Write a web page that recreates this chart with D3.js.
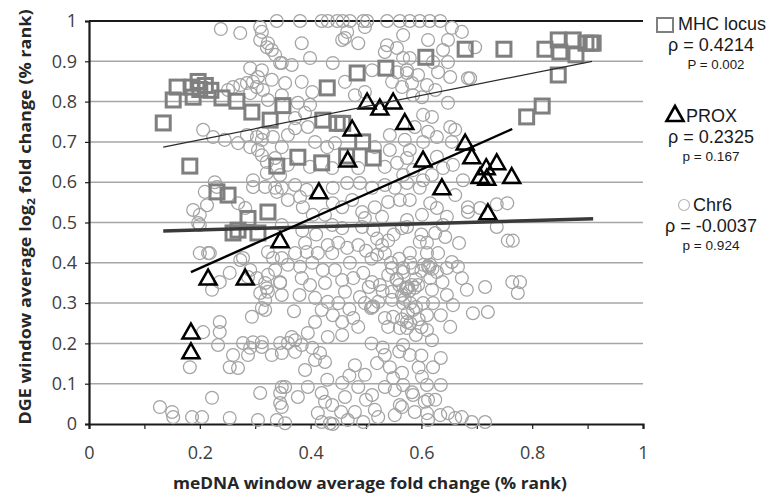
<!DOCTYPE html>
<html>
<head>
<meta charset="utf-8">
<script src="https://cdn.jsdelivr.net/npm/d3@7"></script>
<style>
  body { margin: 0; background: #fff; }
  text { font-family: "Open Sans", sans-serif; }
</style>
</head>
<body>
<div id="grafico"></div>
<script>
// ---------------- Datos ----------------

const ticksY = [0, 0.1, 0.2, 0.3, 0.4, 0.5, 0.6, 0.7, 0.8, 0.9, 1]
const etiquetasY = ["0", "0.1", "0.2", "0.3", "0.4", "0.5", "0.6", "0.7", "0.8", "0.9", "1"]
const ticksX = [0, 0.1, 0.2, 0.3, 0.4, 0.5, 0.6, 0.7, 0.8, 0.9, 1]
const etiquetasX = ["0", "", "0.2", "", "0.4", "", "0.6", "", "0.8", "", "1"]

// MHC locus (cuadrados)
const mhc = [
  [0.134,0.747],[0.152,0.804],[0.159,0.836],[0.186,0.836],[0.197,0.850],[0.200,0.830],[0.210,0.840],
  [0.220,0.828],[0.188,0.811],[0.240,0.809],[0.267,0.801],[0.294,0.774],[0.327,0.754],[0.350,0.790],
  [0.182,0.640],[0.339,0.640],[0.231,0.576],[0.251,0.568],[0.323,0.526],[0.287,0.510],[0.260,0.474],
  [0.269,0.481],[0.305,0.474],[0.484,0.871],[0.536,0.883],[0.430,0.834],[0.422,0.754],[0.448,0.746],
  [0.458,0.746],[0.494,0.700],[0.377,0.662],[0.420,0.648],[0.513,0.660],[0.465,0.665],[0.608,0.910],
  [0.679,0.930],[0.749,0.930],[0.823,0.930],[0.847,0.953],[0.874,0.953],[0.850,0.923],[0.879,0.916],
  [0.897,0.945],[0.906,0.945],[0.910,0.945],[0.847,0.866],[0.818,0.789],[0.790,0.762]
]

// PROX (triangulos)
const prox = [
  [0.502,0.799],[0.525,0.784],[0.549,0.799],[0.570,0.748],[0.475,0.732],[0.467,0.655],[0.415,0.576],
  [0.679,0.697],[0.691,0.663],[0.603,0.655],[0.637,0.586],[0.736,0.648],[0.717,0.636],[0.706,0.614],
  [0.718,0.610],[0.763,0.614],[0.720,0.524],[0.215,0.362],[0.282,0.362],[0.184,0.228],[0.184,0.179],
  [0.345,0.455]
]

// Chr6 (circulos)
const chr6 = [
  [0.238,0.980],[0.273,0.970],[0.312,0.973],[0.309,0.953],[0.321,0.935],[0.330,0.928],[0.336,0.916],
  [0.345,0.896],[0.291,0.883],[0.312,0.878],[0.330,0.854],[0.305,0.861],[0.296,0.849],[0.285,0.846],
  [0.273,0.841],[0.260,0.836],[0.251,0.829],[0.314,0.829],[0.303,0.836],[0.291,0.821],[0.323,0.804],
  [0.206,0.730],[0.224,0.712],[0.245,0.705],[0.269,0.697],[0.285,0.717],[0.303,0.712],[0.312,0.705],
  [0.332,0.712],[0.291,0.687],[0.305,0.680],[0.312,0.667],[0.321,0.650],[0.336,0.660],[0.345,0.618],
  [0.296,0.605],[0.318,0.588],[0.336,0.586],[0.227,0.600],[0.209,0.576],[0.188,0.531],[0.200,0.519],
  [0.197,0.499],[0.282,0.536],[0.269,0.548],[0.314,0.722],[0.213,0.543],[0.231,0.588],[0.296,0.588],
  [0.321,0.623],[0.339,0.576],[0.309,0.985],[0.323,0.945],
  [0.339,1],[0.381,1],[0.420,1],[0.431,1],[0.448,1],[0.458,1],[0.471,1],[0.495,1],[0.502,1],
  [0.538,1],[0.561,1],[0.579,1],[0.597,1],[0.615,1],[0.634,1],
  [0.384,0.945],[0.457,0.953],[0.486,0.945],[0.466,0.973],[0.498,0.985],
  [0.462,0.958],[0.538,0.940],[0.556,0.933],[0.567,0.908],[0.534,0.923],[0.348,0.896],[0.366,0.891],
  [0.399,0.908],[0.440,0.896],[0.511,0.878],[0.556,0.873],[0.574,0.871],[0.354,0.846],[0.384,0.849],
  [0.403,0.824],[0.462,0.849],[0.480,0.816],[0.498,0.824],[0.547,0.849],[0.565,0.836],[0.348,0.816],
  [0.377,0.797],[0.399,0.792],[0.390,0.772],[0.372,0.759],[0.372,0.734],[0.395,0.737],[0.359,0.717],
  [0.408,0.700],[0.348,0.687],[0.430,0.687],[0.444,0.697],[0.516,0.687],[0.543,0.717],[0.543,0.680],
  [0.570,0.705],[0.359,0.643],[0.399,0.638],[0.439,0.635],[0.486,0.635],[0.534,0.638],[0.556,0.648],
  [0.567,0.618],[0.348,0.586],[0.372,0.593],[0.393,0.581],[0.440,0.586],[0.466,0.598],[0.489,0.598],
  [0.511,0.586],[0.534,0.593],[0.552,0.586],[0.359,0.556],[0.381,0.563],[0.386,0.538],[0.440,0.548],
  [0.457,0.538],[0.475,0.556],[0.493,0.526],[0.516,0.538],[0.540,0.551],[0.561,0.556],[0.498,0.511],
  [0.529,0.514],[0.426,0.519],[0.404,0.519],
  [0.567,0.965],[0.612,0.953],[0.648,0.953],[0.655,0.983],[0.673,0.973],[0.697,0.935],[0.639,0.928],
  [0.621,0.898],[0.648,0.898],[0.579,0.908],[0.574,0.878],[0.594,0.866],[0.630,0.873],[0.652,0.861],
  [0.684,0.858],[0.583,0.846],[0.610,0.841],[0.625,0.829],[0.585,0.816],[0.601,0.811],[0.648,0.797],
  [0.603,0.767],[0.619,0.762],[0.588,0.737],[0.612,0.725],[0.652,0.737],[0.661,0.730],[0.655,0.700],
  [0.603,0.700],[0.579,0.680],[0.628,0.663],[0.574,0.660],[0.639,0.635],[0.657,0.643],[0.585,0.630],
  [0.619,0.618],[0.603,0.605],[0.574,0.598],[0.597,0.586],[0.661,0.568],[0.579,0.556],[0.616,0.548],
  [0.628,0.536],[0.684,0.538],[0.755,0.548],[0.736,0.545],[0.601,0.519],[0.574,0.506],[0.646,0.514],
  [0.706,0.536],[0.675,0.605],[0.684,0.526],[0.628,0.712],[0.688,0.858],
  [0.200,0.494],[0.215,0.424],[0.278,0.412],[0.222,0.333],[0.236,0.352],[0.291,0.382],[0.303,0.362],
  [0.323,0.370],[0.318,0.350],[0.345,0.352],[0.323,0.328],[0.318,0.308],[0.318,0.283],[0.294,0.266],
  [0.312,0.288],[0.206,0.228],[0.236,0.253],[0.236,0.228],[0.233,0.196],[0.182,0.141],[0.260,0.171],
  [0.254,0.141],[0.269,0.139],[0.278,0.201],[0.291,0.189],[0.287,0.171],[0.296,0.203],[0.312,0.203],
  [0.312,0.191],[0.330,0.171],[0.345,0.201],[0.348,0.176],[0.309,0.077],[0.345,0.077],[0.222,0.065],
  [0.128,0.042],[0.150,0.030],[0.152,0.017],[0.186,0.017],[0.204,0.017],[0.254,0.015],[0.305,0.010],
  [0.339,0.010],[0.345,0.052],[0.200,0.424],[0.218,0.424],[0.273,0.407],[0.254,0.375],[0.287,0.365],
  [0.321,0.337],[0.309,0.325],[0.323,0.427],[0.332,0.412],[0.336,0.382],[0.354,0.002],[0.354,0.092],
  [0.348,0.494],[0.439,0.494],[0.457,0.486],[0.493,0.489],[0.513,0.481],[0.565,0.486],[0.390,0.449],
  [0.372,0.424],[0.393,0.427],[0.413,0.424],[0.431,0.444],[0.439,0.424],[0.466,0.437],[0.486,0.444],
  [0.529,0.444],[0.534,0.424],[0.348,0.412],[0.359,0.395],[0.381,0.390],[0.403,0.400],[0.422,0.382],
  [0.444,0.382],[0.471,0.400],[0.495,0.375],[0.547,0.387],[0.567,0.387],[0.345,0.350],[0.384,0.362],
  [0.399,0.345],[0.426,0.350],[0.457,0.357],[0.477,0.362],[0.511,0.352],[0.540,0.370],[0.556,0.357],
  [0.574,0.337],[0.547,0.328],[0.348,0.320],[0.408,0.313],[0.431,0.303],[0.462,0.328],[0.489,0.315],
  [0.498,0.300],[0.511,0.290],[0.513,0.292],[0.509,0.288],[0.522,0.303],[0.547,0.308],[0.420,0.283],
  [0.440,0.270],[0.408,0.253],[0.457,0.253],[0.477,0.263],[0.486,0.241],[0.534,0.263],[0.549,0.266],
  [0.540,0.241],[0.561,0.238],[0.574,0.253],[0.395,0.226],[0.457,0.221],[0.431,0.216],[0.366,0.216],
  [0.359,0.201],[0.372,0.208],[0.384,0.196],[0.372,0.179],[0.403,0.189],[0.417,0.176],[0.426,0.154],
  [0.408,0.159],[0.480,0.146],[0.498,0.122],[0.520,0.151],[0.534,0.171],[0.543,0.141],[0.549,0.114],
  [0.565,0.127],[0.390,0.134],[0.348,0.092],[0.377,0.067],[0.395,0.092],[0.420,0.077],[0.426,0.055],
  [0.457,0.102],[0.462,0.067],[0.486,0.092],[0.511,0.072],[0.534,0.092],[0.552,0.084],[0.348,0.042],
  [0.413,0.027],[0.439,0.047],[0.480,0.030],[0.516,0.035],[0.522,0.017],[0.552,0.022],[0.565,0.042],
  [0.420,0.005],[0.435,0.002],[0.495,0.005],[0.467,0.010],[0.440,0.000],
  [0.574,0.489],[0.639,0.494],[0.625,0.474],[0.643,0.464],[0.597,0.452],[0.668,0.449],[0.736,0.489],
  [0.756,0.455],[0.765,0.455],[0.579,0.424],[0.610,0.424],[0.630,0.424],[0.655,0.402],[0.567,0.377],
  [0.585,0.387],[0.616,0.395],[0.612,0.392],[0.614,0.388],[0.628,0.377],[0.646,0.387],[0.666,0.390],
  [0.673,0.362],[0.638,0.352],[0.616,0.362],[0.576,0.340],[0.572,0.335],[0.594,0.345],[0.619,0.333],
  [0.682,0.333],[0.715,0.340],[0.764,0.352],[0.778,0.352],[0.774,0.325],[0.646,0.320],[0.567,0.300],
  [0.585,0.283],[0.603,0.300],[0.621,0.300],[0.657,0.295],[0.635,0.270],[0.610,0.270],[0.693,0.275],
  [0.720,0.278],[0.652,0.241],[0.574,0.238],[0.610,0.233],[0.590,0.221],[0.619,0.208],[0.567,0.196],
  [0.579,0.171],[0.621,0.141],[0.635,0.164],[0.601,0.117],[0.567,0.097],[0.610,0.097],[0.635,0.097],
  [0.583,0.079],[0.585,0.072],[0.612,0.060],[0.625,0.060],[0.606,0.055],[0.588,0.030],[0.610,0.027],
  [0.634,0.022],[0.648,0.027],[0.661,0.015],[0.673,0.017],[0.691,0.005],[0.715,0.005],[0.612,0.010],
  [0.561,0.047],
  [0.555,0.360],[0.560,0.345],[0.565,0.320],[0.570,0.310],[0.580,0.300],[0.590,0.290],[0.575,0.275],
  [0.565,0.260],[0.580,0.250],[0.595,0.260],[0.600,0.240],[0.590,0.360],[0.600,0.380],[0.580,0.400],
  [0.560,0.410],[0.545,0.400],[0.520,0.420],[0.510,0.410],[0.500,0.430],[0.540,0.455],[0.550,0.470],
  [0.600,0.470],[0.610,0.450],[0.520,0.460],[0.583,0.345],[0.588,0.338],[0.578,0.330],[0.620,0.385],
  [0.604,0.395],[0.530,0.330],[0.525,0.345],[0.505,0.340],[0.450,0.300],[0.470,0.285],[0.380,0.320],
  [0.370,0.280],[0.450,0.450],[0.410,0.470],[0.385,0.480],[0.430,0.110],[0.470,0.120],[0.500,0.060],
  [0.455,0.030],[0.530,0.190],[0.510,0.200],[0.560,0.180],[0.600,0.170],[0.595,0.140]
]

// lineas de tendencia (extremos)
const tendenciaMHC = [[0.134, 0.687], [0.908, 0.900]]
const tendenciaPROX = [[0.184, 0.377], [0.764, 0.732]]
const tendenciaChr6 = [[0.134, 0.479], [0.910, 0.509]]

// leyenda
const nombres = ["MHC locus", "PROX", "Chr6"]
const rhos = ["ρ = 0.4214", "ρ = 0.2325", "ρ = -0.0037"]
const pvalores = ["P = 0.002", "p = 0.167", "p = 0.924"]

// ---------------- Graficacion ----------------

const width = 770
const height = 494
const margin = {top: 21, right: 127, bottom: 70, left: 89}

const svg = d3.select("#grafico")
              .append("svg")
              .attr("width", width)
              .attr("height", height)

const xScale = d3.scaleLinear()
                 .domain([0, 1])
                 .range([margin.left, width - margin.right])

const yScale = d3.scaleLinear()
                 .domain([0, 1])
                 .range([height - margin.bottom, margin.top])

// lineas de la grilla
svg.append("g")
   .selectAll("line")
   .data(ticksY.filter(d => d > 0))
   .enter()
   .append("line")
   .attr("x1", xScale(0))
   .attr("x2", xScale(1))
   .attr("y1", d => yScale(d))
   .attr("y2", d => yScale(d))
   .attr("stroke", d => d === 1 ? "#1a1a1a" : "#a6a6a6")
   .attr("stroke-width", d => d === 1 ? 2 : 1.5)

// ejes
const ejeX = svg.append("g")
   .attr("transform", `translate(0, ${yScale(0)})`)
   .call(d3.axisBottom(xScale)
           .tickValues(ticksX)
           .tickSize(5)
           .tickPadding(17)
           .tickFormat((d, i) => etiquetasX[i]))

const ejeY = svg.append("g")
   .attr("transform", `translate(${xScale(0)}, 0)`)
   .call(d3.axisLeft(yScale)
           .tickValues(ticksY)
           .tickSize(4)
           .tickPadding(8)
           .tickFormat((d, i) => etiquetasY[i]))

for (const eje of [ejeX, ejeY]) {
  eje.select(".domain").attr("stroke", "#1a1a1a").attr("stroke-width", 2.2)
  eje.selectAll(".tick line").attr("stroke", "#1a1a1a").attr("stroke-width", 1.2)
  eje.selectAll(".tick text")
     .attr("fill", "#404040")
     .style("font-size", "18px")
     .style("font-family", "'Open Sans', sans-serif")
}

// Chr6
svg.append("g")
   .selectAll("circle")
   .data(chr6)
   .enter()
   .append("circle")
   .attr("cx", d => xScale(d[0]))
   .attr("cy", d => yScale(d[1]))
   .attr("r", 6.4)
   .attr("fill", "none")
   .attr("stroke", "#a3a3a3")
   .attr("stroke-width", 1.25)

// MHC
const lado = 14
svg.append("g")
   .selectAll("rect")
   .data(mhc)
   .enter()
   .append("rect")
   .attr("x", d => xScale(d[0]) - lado / 2)
   .attr("y", d => yScale(d[1]) - lado / 2)
   .attr("width", lado)
   .attr("height", lado)
   .attr("fill", "none")
   .attr("stroke", "#7f7f7f")
   .attr("stroke-width", 3)

// PROX
const triangulo = "M0,-8.5L8.5,6.5L-8.5,6.5Z"
svg.append("g")
   .selectAll("path")
   .data(prox)
   .enter()
   .append("path")
   .attr("d", triangulo)
   .attr("transform", d => `translate(${xScale(d[0])}, ${yScale(d[1])})`)
   .attr("fill", "none")
   .attr("stroke", "#000")
   .attr("stroke-width", 2.5)
   .attr("stroke-linejoin", "miter")

// tendencias
const linea = d3.line().x(d => xScale(d[0])).y(d => yScale(d[1]))
const estilos = [
  {datos: tendenciaChr6, color: "#3a3a3a", ancho: 3.5},
  {datos: tendenciaMHC, color: "#2b2b2b", ancho: 1.2},
  {datos: tendenciaPROX, color: "#000", ancho: 2.4}
]
estilos.forEach(e => {
  svg.append("path")
     .attr("d", linea(e.datos))
     .attr("fill", "none")
     .attr("stroke", e.color)
     .attr("stroke-width", e.ancho)
})

// titulos de los ejes
svg.append("text")
   .attr("x", 370)
   .attr("y", 489)
   .attr("text-anchor", "middle")
   .attr("textLength", 394)
   .attr("lengthAdjust", "spacingAndGlyphs")
   .attr("font-size", 16.5)
   .attr("font-weight", "bold")
   .attr("fill", "#262626")
   .text("meDNA window average fold change (% rank)")

const tituloY = svg.append("text")
   .attr("transform", "translate(31, 217) rotate(-90)")
   .attr("text-anchor", "middle")
   .attr("textLength", 415)
   .attr("lengthAdjust", "spacingAndGlyphs")
   .attr("font-size", 16.5)
   .attr("font-weight", "bold")
   .attr("fill", "#262626")
tituloY.append("tspan").text("DGE window average log")
tituloY.append("tspan").attr("font-size", 11).attr("dy", 4).text("2")
tituloY.append("tspan").attr("dy", -4).text(" fold change (% rank)")

// leyenda
const cx = 711
const posY = [30, 122, 211]
const fuente = "'Liberation Sans', Arial, sans-serif"

// iconos
svg.append("rect")
   .attr("x", 657).attr("y", 18).attr("width", 16).attr("height", 14)
   .attr("fill", "none").attr("stroke", "#7f7f7f").attr("stroke-width", 2)
svg.append("path")
   .attr("d", "M0,-8L8.5,7L-8.5,7Z")
   .attr("transform", "translate(675, 114)")
   .attr("fill", "none").attr("stroke", "#000").attr("stroke-width", 2.6)
svg.append("circle")
   .attr("cx", 684).attr("cy", 205).attr("r", 5.5)
   .attr("fill", "none").attr("stroke", "#b5b5b5").attr("stroke-width", 1.2)

const nombreX = [678, 686, 693]
nombres.forEach((n, i) => {
  svg.append("text")
     .attr("x", nombreX[i])
     .attr("y", posY[i])
     .attr("font-size", 18)
     .style("font-family", fuente)
     .attr("fill", "#1a1a1a")
     .text(n)
  svg.append("text")
     .attr("x", cx)
     .attr("y", posY[i] + 21)
     .attr("text-anchor", "middle")
     .attr("font-size", 18)
     .style("font-family", fuente)
     .attr("fill", "#1a1a1a")
     .text(rhos[i])
  svg.append("text")
     .attr("x", i === 0 ? 716 : cx)
     .attr("y", posY[i] + 39)
     .attr("text-anchor", "middle")
     .attr("font-size", 12)
     .attr("textLength", 57)
     .attr("lengthAdjust", "spacingAndGlyphs")
     .style("font-family", fuente)
     .attr("fill", "#1a1a1a")
     .text(pvalores[i])
})
</script>
</body>
</html>
